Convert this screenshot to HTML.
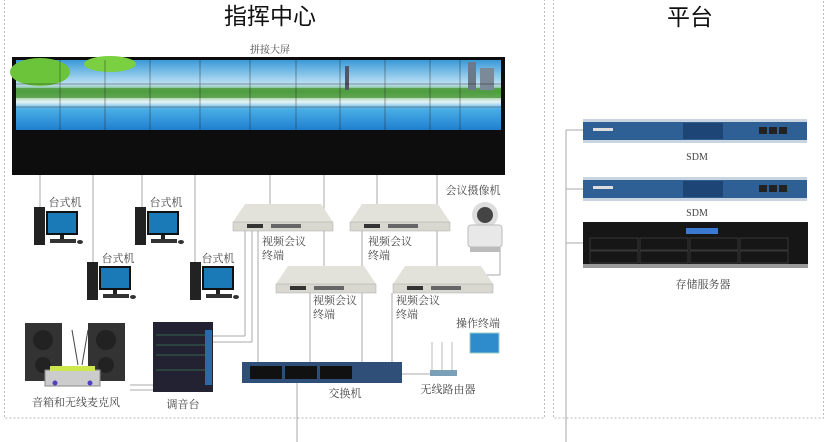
<!DOCTYPE html>
<html><head><meta charset="utf-8"><style>
html,body{margin:0;padding:0;background:#fff;}
svg{display:block;}
text{font-family:"Liberation Serif","Noto Serif CJK SC",serif;fill:#444;}
.t{font-family:"Liberation Sans","Noto Sans CJK SC",sans-serif;fill:#111;}
</style></head><body>
<svg width="835" height="442" viewBox="0 0 835 442" xmlns="http://www.w3.org/2000/svg">
<defs>
<linearGradient id="sky" x1="0" y1="0" x2="0" y2="1">
<stop offset="0" stop-color="#3a9ad8"/><stop offset="0.35" stop-color="#bfe3f5"/><stop offset="0.45" stop-color="#5aa84a"/><stop offset="0.6" stop-color="#e8f4f8"/><stop offset="0.7" stop-color="#4aaee6"/><stop offset="1" stop-color="#1f7fcf"/>
</linearGradient>
<g id="pc">
<rect x="0" y="0" width="11" height="38" fill="#222"/>
<rect x="12" y="4" width="32" height="24" fill="#111"/>
<rect x="14" y="6" width="28" height="20" fill="#1a7ab8"/>
<rect x="26" y="28" width="4" height="4" fill="#222"/>
<rect x="16" y="32" width="26" height="4" fill="#333"/>
<ellipse cx="46" cy="35" rx="3" ry="2" fill="#333"/>
</g>
<g id="vc">
<polygon points="12,0 88,0 100,18 0,18" fill="#e2e2da"/>
<rect x="0" y="18" width="100" height="9" fill="#d8d8d0" stroke="#aaa" stroke-width="0.5"/>
<rect x="14" y="20" width="16" height="4" fill="#333"/>
<rect x="38" y="20" width="30" height="4" fill="#666"/>
</g>
<g id="sdm">
<rect x="0" y="0" width="224" height="24" fill="#2e5f95"/>
<rect x="0" y="0" width="224" height="3" fill="#c8d4e0"/>
<rect x="0" y="21" width="224" height="3" fill="#c8d4e0"/>
<rect x="100" y="4" width="40" height="16" fill="#1d4677"/>
<rect x="176" y="8" width="8" height="7" fill="#222"/><rect x="186" y="8" width="8" height="7" fill="#222"/><rect x="196" y="8" width="8" height="7" fill="#222"/>
<rect x="10" y="9" width="20" height="3" fill="#ddd"/>
</g>
</defs>

<rect x="4.5" y="-1" width="540" height="419" fill="none" stroke="#bbb" stroke-dasharray="2,2"/>
<rect x="553.5" y="-1" width="270" height="419" fill="none" stroke="#bbb" stroke-dasharray="2,2"/>
<text class="t" x="270" y="24" font-size="23" text-anchor="middle">指挥中心</text>
<text class="t" x="690" y="25" font-size="23" text-anchor="middle">平台</text>

<g stroke="#aaa" stroke-width="1" fill="none">
<line x1="40" y1="175" x2="40" y2="207"/>
<line x1="93" y1="175" x2="93" y2="263"/>
<line x1="142" y1="175" x2="142" y2="207"/>
<line x1="195" y1="175" x2="195" y2="263"/>
<line x1="270" y1="175" x2="270" y2="204"/>
<line x1="324" y1="175" x2="324" y2="266"/>
<line x1="377" y1="175" x2="377" y2="204"/>
<line x1="437" y1="175" x2="437" y2="266"/>
<line x1="500" y1="245" x2="500" y2="275"/><line x1="460" y1="275" x2="500" y2="275"/>
<line x1="245" y1="230" x2="245" y2="336"/><line x1="213" y1="336" x2="245" y2="336"/>
<line x1="252" y1="230" x2="252" y2="342"/><line x1="213" y1="342" x2="252" y2="342"/>
<line x1="258" y1="230" x2="258" y2="362"/>
<line x1="310" y1="293" x2="310" y2="362"/>
<line x1="362" y1="230" x2="362" y2="362"/>
<line x1="392" y1="293" x2="392" y2="362"/>
<line x1="130" y1="385" x2="155" y2="385"/><line x1="130" y1="390" x2="155" y2="390"/>
<line x1="401" y1="374" x2="440" y2="374"/>
<line x1="297" y1="382" x2="297" y2="442"/>
<line x1="566" y1="130" x2="566" y2="442"/>
<line x1="566" y1="130" x2="583" y2="130"/>
<line x1="566" y1="189" x2="583" y2="189"/>
<line x1="566" y1="243" x2="583" y2="243"/>
</g>

<text x="270" y="53" font-size="10" text-anchor="middle">拼接大屏</text>
<rect x="12" y="57" width="493" height="118" fill="#0d0d0d"/>
<rect x="16" y="60" width="485" height="70" fill="url(#sky)"/>
<rect x="16" y="88" width="485" height="10" fill="#4c9a3c" opacity="0.8"/>
<ellipse cx="40" cy="72" rx="30" ry="14" fill="#6cc43a"/>
<ellipse cx="110" cy="64" rx="26" ry="8" fill="#7ad040"/>
<rect x="468" y="62" width="8" height="28" fill="#6a7a88"/><rect x="480" y="68" width="14" height="22" fill="#7b8a98"/>
<rect x="345" y="66" width="4" height="24" fill="#556"/>
<g stroke="#222" stroke-width="0.7" opacity="0.6">
<line x1="60" y1="60" x2="60" y2="130"/><line x1="105" y1="60" x2="105" y2="130"/><line x1="150" y1="60" x2="150" y2="130"/><line x1="200" y1="60" x2="200" y2="130"/><line x1="250" y1="60" x2="250" y2="130"/><line x1="296" y1="60" x2="296" y2="130"/><line x1="340" y1="60" x2="340" y2="130"/><line x1="385" y1="60" x2="385" y2="130"/><line x1="430" y1="60" x2="430" y2="130"/><line x1="460" y1="60" x2="460" y2="130"/>
<line x1="16" y1="84" x2="501" y2="84"/><line x1="16" y1="107" x2="501" y2="107"/>
</g>

<use href="#pc" x="34" y="207"/><text x="166" y="206" font-size="11" text-anchor="middle">台式机</text>
<text x="65" y="206" font-size="11" text-anchor="middle">台式机</text>
<use href="#pc" x="135" y="207"/>
<use href="#pc" x="87" y="262"/><text x="118" y="262" font-size="11" text-anchor="middle">台式机</text>
<use href="#pc" x="190" y="262"/><text x="218" y="262" font-size="11" text-anchor="middle">台式机</text>

<use href="#vc" x="233" y="204"/><use href="#vc" x="350" y="204"/>
<use href="#vc" x="276" y="266"/><use href="#vc" x="393" y="266"/>
<g font-size="11">
<text x="262" y="245">视频会议</text><text x="262" y="259">终端</text>
<text x="368" y="245">视频会议</text><text x="368" y="259">终端</text>
<text x="313" y="304">视频会议</text><text x="313" y="318">终端</text>
<text x="396" y="304">视频会议</text><text x="396" y="318">终端</text>
</g>

<text x="473" y="194" font-size="11" text-anchor="middle">会议摄像机</text>
<circle cx="485" cy="215" r="13" fill="#ddd"/><circle cx="485" cy="215" r="8" fill="#444"/>
<rect x="468" y="225" width="34" height="22" rx="3" fill="#e8e8e8" stroke="#bbb"/>
<rect x="470" y="247" width="30" height="5" fill="#bbb"/>

<rect x="25" y="323" width="37" height="58" fill="#333"/><circle cx="43" cy="340" r="10" fill="#222"/><circle cx="43" cy="365" r="8" fill="#222"/>
<rect x="88" y="323" width="37" height="58" fill="#333"/><circle cx="106" cy="340" r="10" fill="#222"/><circle cx="106" cy="365" r="8" fill="#222"/>
<line x1="72" y1="330" x2="78" y2="365" stroke="#444"/><line x1="88" y1="330" x2="82" y2="365" stroke="#444"/>
<rect x="45" y="370" width="55" height="16" fill="#ccc" stroke="#888"/>
<rect x="50" y="366" width="45" height="5" fill="#cde84a"/>
<circle cx="55" cy="383" r="2.5" fill="#5040c0"/><circle cx="90" cy="383" r="2.5" fill="#5040c0"/>
<text x="76" y="406" font-size="11" text-anchor="middle">音箱和无线麦克风</text>

<rect x="153" y="322" width="60" height="70" fill="#223"/>
<g stroke="#4a6" stroke-width="0.6"><line x1="156" y1="335" x2="205" y2="335"/><line x1="156" y1="345" x2="205" y2="345"/><line x1="156" y1="355" x2="205" y2="355"/><line x1="156" y1="370" x2="205" y2="370"/></g>
<rect x="205" y="330" width="7" height="55" fill="#2a6aa8"/>
<text x="183" y="408" font-size="11" text-anchor="middle">调音台</text>

<rect x="242" y="362" width="160" height="21" fill="#2f4f78"/>
<g fill="#111"><rect x="250" y="366" width="32" height="13"/><rect x="285" y="366" width="32" height="13"/><rect x="320" y="366" width="32" height="13"/></g>
<text x="345" y="397" font-size="11" text-anchor="middle">交换机</text>

<line x1="432" y1="342" x2="432" y2="372" stroke="#bbb"/><line x1="442" y1="342" x2="442" y2="372" stroke="#bbb"/><line x1="452" y1="342" x2="452" y2="372" stroke="#bbb"/>
<rect x="430" y="370" width="27" height="6" fill="#7aa0b8"/>
<text x="448" y="393" font-size="11" text-anchor="middle">无线路由器</text>
<text x="478" y="327" font-size="11" text-anchor="middle">操作终端</text>
<rect x="470" y="333" width="29" height="20" fill="#2e8ccc" stroke="#9cc"/>

<use href="#sdm" x="583" y="119"/>
<text x="697" y="160" font-size="10" text-anchor="middle">SDM</text>
<use href="#sdm" x="583" y="177"/>
<text x="697" y="216" font-size="10" text-anchor="middle">SDM</text>
<rect x="583" y="222" width="225" height="46" fill="#161616"/>
<rect x="583" y="264" width="225" height="4" fill="#999"/>
<rect x="686" y="228" width="32" height="6" fill="#3a7ad0"/>
<g stroke="#444" stroke-width="0.7" fill="none"><rect x="590" y="238" width="48" height="12"/><rect x="640" y="238" width="48" height="12"/><rect x="690" y="238" width="48" height="12"/><rect x="740" y="238" width="48" height="12"/>
<rect x="590" y="251" width="48" height="12"/><rect x="640" y="251" width="48" height="12"/><rect x="690" y="251" width="48" height="12"/><rect x="740" y="251" width="48" height="12"/></g>
<text x="703" y="288" font-size="11" text-anchor="middle">存储服务器</text>
</svg>
</body></html>
